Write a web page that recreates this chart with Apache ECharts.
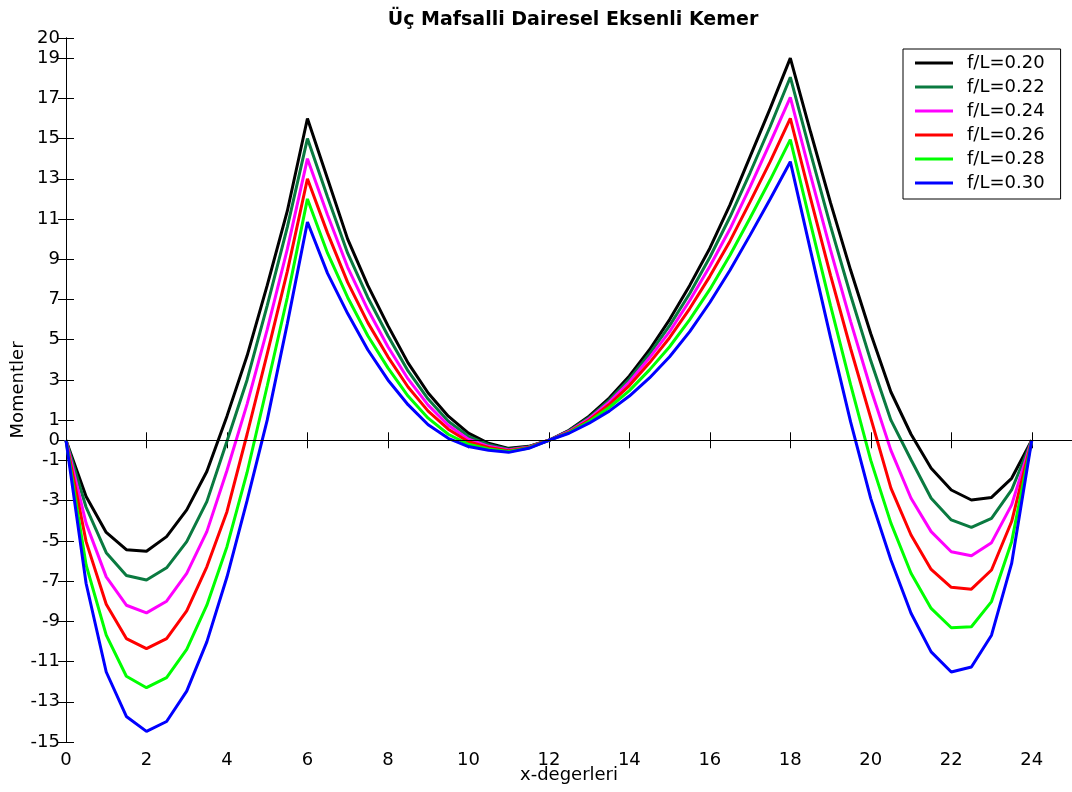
<!DOCTYPE html>
<html><head><meta charset="utf-8">
<script src="https://cdn.jsdelivr.net/npm/echarts@6/dist/echarts.min.js"></script>
<style>html,body{margin:0;padding:0;background:#fff}#c{width:1072px;height:792px}</style>
</head><body><div id="c"></div>
<script>
const titleText = 'Üç Mafsalli Dairesel Eksenli Kemer';
const xName = 'x-degerleri';
const yName = 'Momentler';
const xValues = [0,0.5,1,1.5,2,2.5,3,3.5,4,4.5,5,5.5,6,6.5,7,7.5,8,8.5,9,9.5,10,10.5,11,11.5,12,12.5,13,13.5,14,14.5,15,15.5,16,16.5,17,17.5,18,18.5,19,19.5,20,20.5,21,21.5,22,22.5,23,23.5,24];
const seriesNames = ['f/L=0.20','f/L=0.22','f/L=0.24','f/L=0.26','f/L=0.28','f/L=0.30'];
const seriesColors = ['#000000','#0a7a40','#ff00ff','#ff0000','#00ff00','#0000ff'];
const m020 = [0,-2.8,-4.58,-5.44,-5.52,-4.79,-3.46,-1.55,1.2,4.2,7.7,11.4,16,13.0,10.0,7.7,5.7,3.85,2.35,1.2,0.36,-0.15,-0.4,-0.3,0,0.5,1.2,2.1,3.2,4.5,6.0,7.7,9.55,11.7,14.1,16.5,19,15.35,11.8,8.45,5.3,2.4,0.3,-1.39,-2.47,-2.97,-2.84,-1.89,0];
const m022 = [0,-3.33,-5.59,-6.72,-6.95,-6.34,-5.04,-3.05,-0.05,3.0,6.7,10.6,15,12.1,9.3,7.1,5.2,3.45,2.05,0.95,0.2,-0.22,-0.44,-0.32,0,0.47,1.13,2.0,3.05,4.3,5.7,7.3,9.1,11.1,13.3,15.6,18.05,14.3,10.65,7.2,3.95,1.0,-0.97,-2.88,-3.96,-4.33,-3.88,-2.47,0];
const m024 = [0,-4.13,-6.79,-8.2,-8.58,-8.0,-6.62,-4.54,-1.5,1.8,5.5,9.5,14,11.2,8.6,6.5,4.65,3.05,1.75,0.75,0.05,-0.3,-0.48,-0.34,0,0.44,1.07,1.9,2.9,4.1,5.4,6.95,8.65,10.5,12.6,14.8,17.05,13.2,9.45,5.9,2.55,-0.5,-2.88,-4.54,-5.54,-5.74,-5.09,-3.21,0];
const m026 = [0,-5.04,-8.15,-9.86,-10.36,-9.86,-8.48,-6.29,-3.55,0.3,4.3,8.4,13,10.3,7.85,5.85,4.15,2.65,1.45,0.55,-0.07,-0.36,-0.52,-0.36,0,0.41,1.0,1.78,2.72,3.85,5.1,6.55,8.15,9.9,11.85,13.85,16,12.05,8.2,4.55,1.1,-2.38,-4.71,-6.42,-7.31,-7.4,-6.45,-4.04,0];
const m028 = [0,-6.2,-9.69,-11.73,-12.3,-11.8,-10.4,-8.2,-5.29,-1.6,2.7,7.1,12,9.3,7.1,5.2,3.6,2.2,1.1,0.3,-0.2,-0.43,-0.56,-0.38,0,0.38,0.93,1.63,2.47,3.5,4.65,6.0,7.5,9.2,11.05,12.95,14.95,10.8,6.7,2.75,-1.0,-4.12,-6.61,-8.36,-9.32,-9.27,-8.02,-5.04,0];
const m030 = [0,-7.12,-11.52,-13.73,-14.47,-13.98,-12.47,-10.02,-6.8,-3.0,1.0,5.8,10.85,8.3,6.3,4.5,3.0,1.77,0.77,0.1,-0.31,-0.5,-0.6,-0.4,0,0.35,0.85,1.45,2.2,3.1,4.15,5.4,6.85,8.45,10.2,12.0,13.85,9.45,5.1,0.9,-2.9,-5.95,-8.6,-10.52,-11.52,-11.27,-9.69,-6.12,0];
const xTickValues = [0,2,4,6,8,10,12,14,16,18,20,22,24];
const yTickValues = [-15,-13,-11,-9,-7,-5,-3,-1,0,1,3,5,7,9,11,13,15,17,19,20];

const allSeries = [m020,m022,m024,m026,m028,m030];
const FONT = 'DejaVu Sans';
const chart = echarts.init(document.getElementById('c'), null, {renderer:'canvas'});

const series = allSeries.map((vals, i) => ({
  name: seriesNames[i],
  type: 'line',
  data: xValues.map((x, k) => [x, vals[k]]),
  symbol: 'none',
  lineStyle: {color: seriesColors[i], width: 3},
  itemStyle: {color: seriesColors[i]},
  emphasis: {disabled: true},
  markLine: i === 0 ? {
    silent: true, symbol: 'none', label: {show: false},
    lineStyle: {color: '#000', width: 1, type: 'solid'},
    data: [{yAxis: 0}]
  } : undefined,
  z: 3
}));

const axisLineStyle = {show: true, lineStyle: {color: '#000', width: 1}};
chart.setOption({
  animation: false,
  backgroundColor: '#fff',
  title: {
    text: titleText, left: 568, top: 6, textAlign: 'center',
    textStyle: {fontFamily: FONT, fontSize: 19, fontWeight: 'bold', color: '#000'}
  },
  legend: {
    orient: 'vertical', left: 903, top: 49, icon: 'rect',
    padding: [4, 16, 6, 12], itemGap: 4, itemWidth: 38, itemHeight: 3,
    backgroundColor: '#fff', borderColor: '#000', borderWidth: 1,
    textStyle: {fontFamily: FONT, fontSize: 18, color: '#000', lineHeight: 20, padding: [0, 0, 0, 9]},
    data: seriesNames
  },
  grid: {left: 66, top: 38, width: 1006, height: 704, containLabel: false, outerBoundsMode: 'none'},
  xAxis: [{
    type: 'value', min: 0, max: 25, position: 'bottom',
    name: xName, nameLocation: 'middle', nameGap: 24, nameMoveOverlap: false,
    nameTextStyle: {fontFamily: FONT, fontSize: 18, color: '#000'},
    axisLine: axisLineStyle,
    axisTick: {show: true, inside: true, length: 8, customValues: xTickValues, lineStyle: {color: '#000'}},
    axisLabel: {customValues: xTickValues, fontFamily: FONT, fontSize: 18, color: '#000', margin: 9},
    splitLine: {show: false}
  }, {
    type: 'value', min: 0, max: 25, position: 'top',
    axisLine: axisLineStyle,
    axisTick: {show: true, inside: true, length: 8, customValues: xTickValues, lineStyle: {color: '#000'}},
    axisLabel: {show: false},
    splitLine: {show: false}
  }],
  yAxis: [{
    type: 'value', min: -15, max: 20, position: 'left',
    name: yName, nameLocation: 'middle', nameGap: 39, nameRotate: 90, nameMoveOverlap: false,
    nameTextStyle: {fontFamily: FONT, fontSize: 18, color: '#000'},
    axisLine: axisLineStyle,
    axisTick: {show: true, inside: true, length: 8, customValues: yTickValues, lineStyle: {color: '#000'}},
    axisLabel: {customValues: yTickValues, fontFamily: FONT, fontSize: 18, color: '#000', margin: 6},
    splitLine: {show: false}
  }, {
    type: 'value', min: -15, max: 20, position: 'right',
    axisLine: axisLineStyle,
    axisTick: {show: true, inside: true, length: 8, customValues: yTickValues, lineStyle: {color: '#000'}},
    axisLabel: {show: false},
    splitLine: {show: false}
  }],
  series: series
});
</script>
</body></html>
